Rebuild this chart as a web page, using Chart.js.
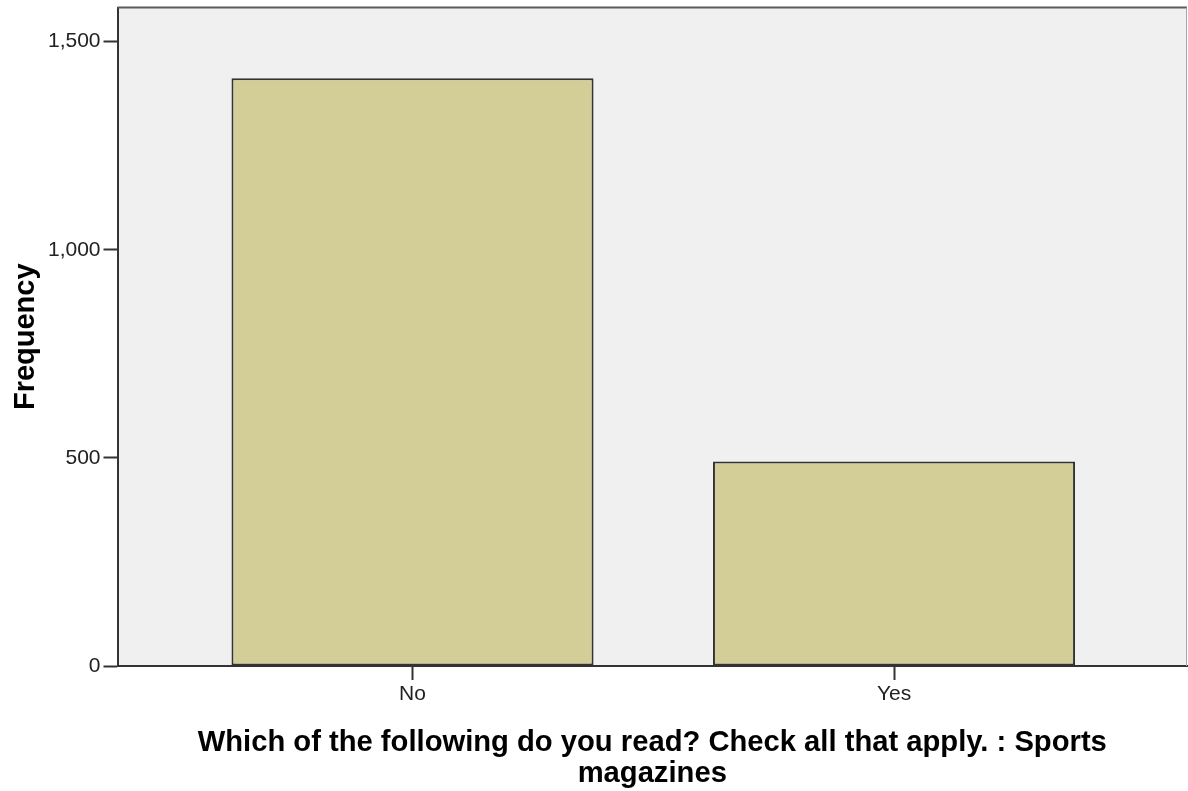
<!DOCTYPE html>
<html>
<head>
<meta charset="utf-8">
<script src="https://cdn.jsdelivr.net/npm/chart.js@4.4.0/dist/chart.umd.min.js"></script>
<style>
  html, body { margin: 0; padding: 0; background: #fff; }
  canvas { display: block; }
</style>
</head>
<body>
<canvas id="chart" width="1188" height="791"></canvas>
<script>
const categories = ['No', 'Yes']
const frequencies = [1412, 491]
const yTicks = [0, 500, 1000, 1500]
const yMax = 1582
const xTitle = ['Which of the following do you read? Check all that apply. : Sports', 'magazines']
const yTitle = 'Frequency'

const FONT = 'Arial, "Liberation Sans", sans-serif'
const AXIS = '#333333'

// grey plot background plus the thin top / right frame
const plotFrame = {
  id: 'plotFrame',
  beforeDraw(chart) {
    const { ctx, chartArea: a } = chart
    ctx.save()
    ctx.fillStyle = '#f0f0f0'
    ctx.fillRect(a.left, a.top, a.right - a.left, a.bottom - a.top)
    ctx.restore()
  },
  afterDraw(chart) {
    const { ctx, chartArea: a } = chart
    ctx.save()
    ctx.strokeStyle = '#5a5a5a'
    ctx.lineWidth = 2
    ctx.beginPath()
    ctx.moveTo(a.left, a.top)
    ctx.lineTo(a.right, a.top)
    ctx.stroke()
    ctx.strokeStyle = '#a8a8a8'
    ctx.lineWidth = 1
    ctx.beginPath()
    ctx.moveTo(a.right - 0.5, a.top)
    ctx.lineTo(a.right - 0.5, a.bottom)
    ctx.stroke()
    ctx.restore()
  }
}

new Chart(document.getElementById('chart'), {
  type: 'bar',
  data: {
    datasets: [{
      data: categories.map((c, i) => ({ x: i, y: frequencies[i] })),
      backgroundColor: '#d3ce98',
      borderColor: '#333333',
      borderWidth: 2,
      borderSkipped: false,
      barPercentage: 0.752,
      categoryPercentage: 1
    }]
  },
  options: {
    responsive: false,
    animation: false,
    devicePixelRatio: 1,
    layout: { padding: { top: 7.5, right: 1, left: 0, bottom: 0 } },
    plugins: {
      legend: { display: false },
      tooltip: { enabled: false }
    },
    scales: {
      x: {
        type: 'linear',
        min: -0.6127,
        max: 1.6085,
        offset: false,
        afterFit: (s) => { s.height = 125; s.paddingLeft = 0; s.paddingRight = 0 },
        afterBuildTicks: (s) => { s.ticks = categories.map((c, i) => ({ value: i })) },
        border: { display: true, color: AXIS, width: 2 },
        grid: { offset: false, drawOnChartArea: false, drawTicks: true, tickLength: 14, tickWidth: 2, tickColor: AXIS },
        ticks: {
          padding: 2,
          color: '#222',
          font: { family: FONT, size: 21 },
          maxRotation: 0,
          callback: (v) => categories[v]
        },
        title: {
          display: true,
          text: xTitle,
          color: '#000',
          font: { family: FONT, size: 29.2, weight: 'bold', lineHeight: 1.05 },
          padding: { top: 0, bottom: 2 }
        }
      },
      y: {
        min: 0,
        max: yMax,
        afterFit: (s) => { s.width = 117.5; s.paddingTop = 0; s.paddingBottom = 0 },
        afterBuildTicks: (s) => { s.ticks = yTicks.map(v => ({ value: v })) },
        border: { display: true, color: AXIS, width: 2 },
        grid: { drawOnChartArea: false, drawTicks: true, tickLength: 14, tickWidth: 2, tickColor: AXIS },
        ticks: {
          padding: 3,
          color: '#222',
          font: { family: FONT, size: 21 },
          callback: (v) => v.toLocaleString('en-US')
        },
        title: {
          display: true,
          text: yTitle,
          color: '#000',
          font: { family: FONT, size: 29, weight: 'bold', lineHeight: 1.03 },
          padding: { top: 11, bottom: 0 }
        }
      }
    }
  },
  plugins: [plotFrame]
})
</script>
</body>
</html>
